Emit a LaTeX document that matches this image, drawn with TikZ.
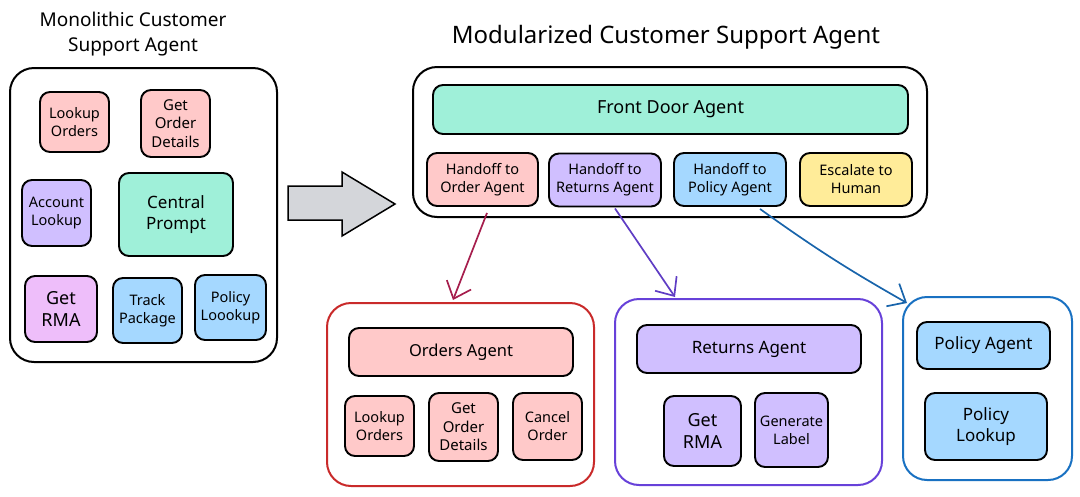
\documentclass[tikz,border=0pt]{standalone}
\usepackage{fontspec}
\setmainfont{Noto Sans}
\usetikzlibrary{arrows.meta}
\definecolor{pinkf}{HTML}{FFC9C9}
\definecolor{purpf}{HTML}{D0BFFF}
\definecolor{mintf}{HTML}{9FF0D9}
\definecolor{magf}{HTML}{EEBEFA}
\definecolor{bluef}{HTML}{A5D8FF}
\definecolor{yellf}{HTML}{FFEC99}
\definecolor{grayf}{HTML}{D4D6DA}
\definecolor{redline}{HTML}{C92A2A}
\definecolor{redarr}{HTML}{A61E4D}
\definecolor{purpline}{HTML}{6741D9}
\definecolor{purparr}{HTML}{5F3DC4}
\definecolor{blueline}{HTML}{1971C2}
\definecolor{bluearr}{HTML}{1864AB}
\begin{document}
\begin{tikzpicture}[x=1pt,y=-1pt,
  box/.style={draw=black, line width=1.9pt, rounded corners=10pt, align=center,
    inner sep=0pt, font=\fontsize{14.5}{18}\selectfont},
  medtxt/.style={font=\fontsize{17}{21}\selectfont},
  bigtxt/.style={font=\fontsize{18}{22}\selectfont},
  outer/.style={draw=black, line width=2pt, rounded corners=24pt, inner sep=0pt, fill=white},
  conn/.style={line width=1.7pt, -{Straight Barb[length=15pt,width=26pt,line width=1.7pt]}},
  title/.style={align=center, inner sep=0pt}
]
\useasboundingbox (0,0) rectangle (1080,496);

% ---------- Titles ----------
\node[title, font=\fontsize{19}{25}\selectfont] (t1) at (133,34.5) {Monolithic Customer\\Support Agent};
\node[title, font=\fontsize{24}{28}\selectfont] (t2) at (666,37) {Modularized Customer Support Agent};

% ---------- Monolithic ----------
\node[outer, minimum width=267pt, minimum height=294pt] (leftbox) at (143.5,215) {};
\node[box, fill=pinkf, minimum width=69pt, minimum height=60pt] (lo1) at (74.5,122) {Lookup\\Orders};
\node[box, fill=pinkf, minimum width=69pt, minimum height=67pt, font=\fontsize{15}{18.5}\selectfont] (god1) at (175.5,123.5) {Get\\Order\\Details};
\node[box, fill=purpf, minimum width=69pt, minimum height=66pt] (acc1) at (56.5,213) {Account\\Lookup};
\node[box, fill=mintf, minimum width=114pt, minimum height=83pt, medtxt] (cp) at (176,214.5) {Central\\Prompt};
\node[box, fill=magf, minimum width=72pt, minimum height=66pt, font=\fontsize{18}{22}\selectfont] (rma1) at (61,309) {Get\\RMA};
\node[box, fill=bluef, minimum width=69pt, minimum height=65pt] (tp) at (147.5,310.5) {Track\\Package};
\node[box, fill=bluef, minimum width=71pt, minimum height=65pt] (pl1) at (230.5,307.5) {Policy\\Loookup};

% ---------- Big arrow ----------
\draw[line width=1.5pt, fill=grayf, line join=miter]
  (288,186) -- (342,186) -- (342,172) -- (395,204) -- (342,236) -- (342,220) -- (288,220) -- cycle;

% ---------- Front door ----------
\node[outer, minimum width=514pt, minimum height=150pt] (topbox) at (670,142) {};
\node[box, fill=mintf, minimum width=475pt, minimum height=49pt, bigtxt] (fd) at (670.5,109.5) {Front Door Agent};
\node[box, fill=pinkf, minimum width=111pt, minimum height=53pt] (h1) at (482.5,179.5) {Handoff to\\Order Agent};
\node[box, fill=purpf, minimum width=112pt, minimum height=53pt] (h2) at (605,180) {Handoff to\\Returns Agent};
\node[box, fill=bluef, minimum width=112pt, minimum height=53pt] (h3) at (730,179.5) {Handoff to\\Policy Agent};
\node[box, fill=yellf, minimum width=112pt, minimum height=53pt] (h4) at (856,179.5) {Escalate to\\Human};

% ---------- Orders ----------
\node[outer, draw=redline, minimum width=267pt, minimum height=183pt] (ob) at (460.5,394.5) {};
\node[box, fill=pinkf, minimum width=224pt, minimum height=48pt, font=\fontsize{16.5}{20}\selectfont] (oa) at (461,352) {Orders Agent};
\node[box, fill=pinkf, minimum width=69pt, minimum height=60pt] (lo2) at (379.5,426) {Lookup\\Orders};
\node[box, fill=pinkf, minimum width=69pt, minimum height=68pt, font=\fontsize{15}{18.5}\selectfont] (god2) at (463.5,427) {Get\\Order\\Details};
\node[box, fill=pinkf, minimum width=69pt, minimum height=67pt] (co) at (547.5,426.5) {Cancel\\Order};

% ---------- Returns ----------
\node[outer, draw=purpline, minimum width=267pt, minimum height=186pt] (rb) at (748.5,392) {};
\node[box, fill=purpf, minimum width=224pt, minimum height=48pt, medtxt] (ra) at (749,349) {Returns Agent};
\node[box, fill=purpf, minimum width=77pt, minimum height=70pt, font=\fontsize{18}{22}\selectfont] (rma2) at (702.5,431) {Get\\RMA};
\node[box, fill=purpf, minimum width=73pt, minimum height=74pt] (gl) at (791.5,430) {Generate\\Label};

% ---------- Policy ----------
\node[outer, draw=blueline, minimum width=169pt, minimum height=183pt] (pb) at (987.5,388.5) {};
\node[box, fill=bluef, minimum width=133pt, minimum height=47pt, medtxt] (pa) at (983.5,345.5) {Policy Agent};
\node[box, fill=bluef, minimum width=122pt, minimum height=67pt, medtxt] (plk) at (986,426.5) {Policy\\Lookup};

% ---------- Connectors ----------
\draw[conn, draw=redarr] ([xshift=4.5pt,yshift=-6pt]h1.south) -- ([xshift=-7.5pt,yshift=2pt]ob.north);
\draw[conn, draw=purparr] ([xshift=10pt,yshift=-1pt]h2.south) -- ([xshift=-73.5pt,yshift=1pt]rb.north);
\draw[conn, draw=bluearr] ([xshift=30pt,yshift=-2pt]h3.south) to[bend right=3] ([xshift=5pt,yshift=-7pt]pb.north west);
\end{tikzpicture}
\end{document}
